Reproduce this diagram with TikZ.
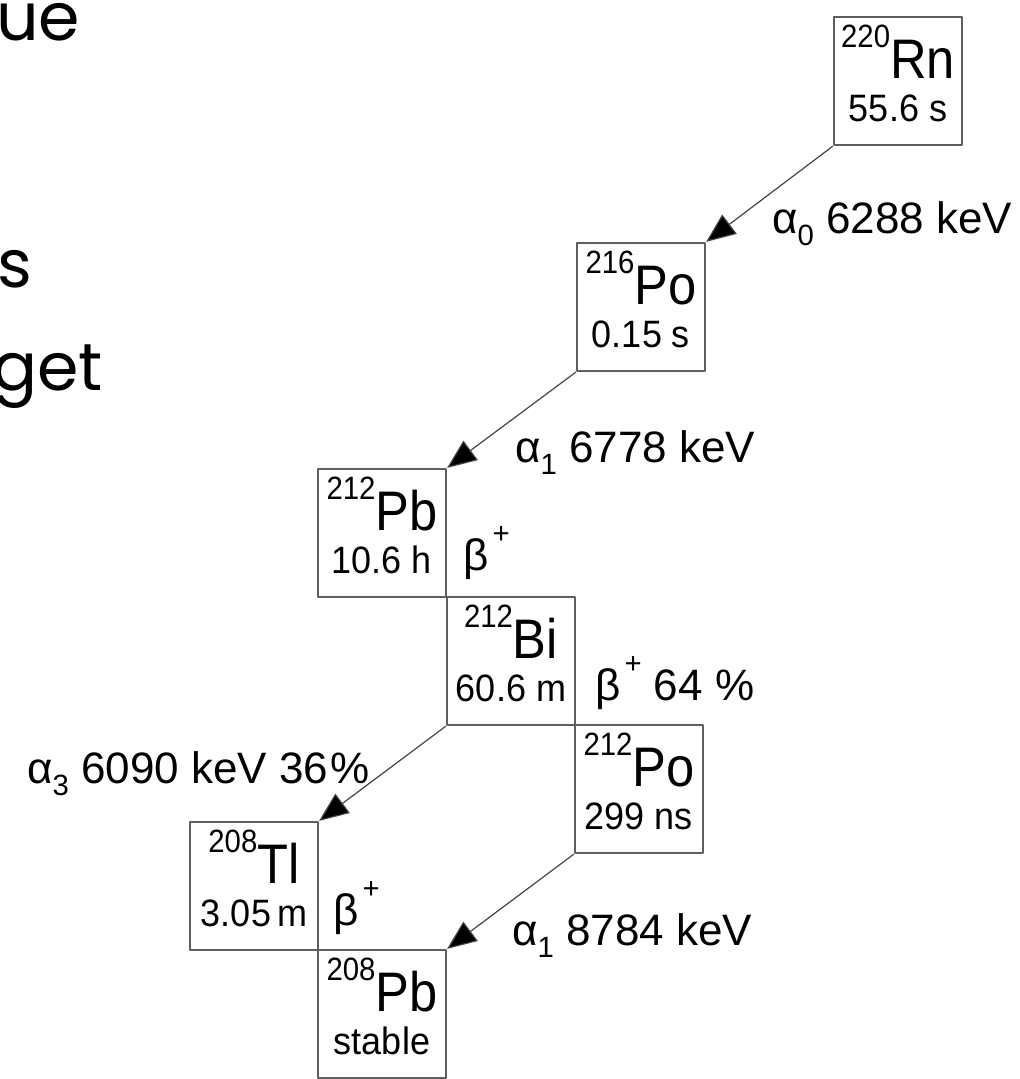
\documentclass[tikz,border=0pt]{standalone}
\usepackage{fontspec}
\setmainfont{Liberation Sans}
\newfontfamily\slidefont{Poppins}
\usetikzlibrary{arrows.meta,positioning}
\definecolor{boxgray}{HTML}{5E5E5E}
\definecolor{arrowgray}{HTML}{444444}
\tikzset{
  every picture/.style={line join=round, >={Triangle[length=22pt,width=18pt,fill=black]}},
  nuc/.style={draw=boxgray, line width=1.7pt, minimum width=96pt, minimum height=96pt, inner sep=0pt},
  sym/.style={anchor=base, inner sep=0pt, font=\fontsize{38}{40}\selectfont},
  hl/.style={anchor=base, inner sep=0pt, font=\fontsize{27}{30}\selectfont},
  decay/.style={anchor=base west, inner sep=0pt, font=\fontsize{33}{36}\selectfont},
  slide/.style={anchor=base west, inner sep=0pt, font=\slidefont\fontsize{50}{55}\selectfont},
  arr/.style={->, arrowgray, line width=0.9pt},
}
\newcommand{\iso}[2]{\scalebox{1}[1.1]{\raisebox{21pt}{\fontsize{22}{22}\selectfont #1}#2}}
\newcommand{\lo}[1]{\raisebox{-9pt}{\fontsize{22}{22}\selectfont #1}}
\newcommand{\bplus}{β\kern3pt\raisebox{20pt}{\fontsize{22}{22}\selectfont +}}

\begin{document}
\begin{tikzpicture}[x=0.75pt,y=-0.75pt]
\useasboundingbox (0,0) rectangle (1020,1079);
% slide text cut off at the left
\node[slide] (w1) at (-4,40) {ue};
\node[slide] (w2) at (-3,287) {s};
\node[slide] (w3) at (-8,390) {get};
% nuclides
\foreach \n/\x/\y/\m/\s/\t in {rn220/898/81/220/Rn/55.6 s, po216/641/307/216/Po/0.15 s,
  pb212/382/533/212/Pb/10.6 h, bi212/511/661/212/Bi/60.6 m, po212/639/789/212/Po/299 ns,
  tl208/254/886/208/Tl/3.05\,m, pb208/382/1014/208/Pb/stable}{
  \node[nuc] (\n) at (\x,\y) {};
  \node[sym] (\n-s) at ([yshift=-47pt]\n.north) {\iso{\m}{\s}};
  \node[hl] (\n-t) at ([yshift=-79.5pt]\n.north) {\scalebox{1}[1.06]{\t}};
}
% decays
\draw[arr] (rn220.south west) -- (po216.north east);
\draw[arr] (po216.south west) -- (pb212.north east);
\draw[arr] (bi212.south west) -- (tl208.north east);
\draw[arr] (po212.south west) -- (pb208.north east);
\node[decay] (a0) at (772,233) {α\lo{0} 6288 keV};
\node[decay] (a1) at (515,462) {α\lo{1} 6778 keV};
\node[decay] (b1) at (463,570) {\bplus};
\node[decay] (b2) at (595,700) {\bplus\ 64 \%};
\node[decay] (a3) at (27,783) {α\lo{3} 6090 keV 36\kern2pt\%};
\node[decay] (b3) at (333,925) {\bplus};
\node[decay] (a4) at (512,945) {α\lo{1} 8784 keV};
\end{tikzpicture}
\end{document}
